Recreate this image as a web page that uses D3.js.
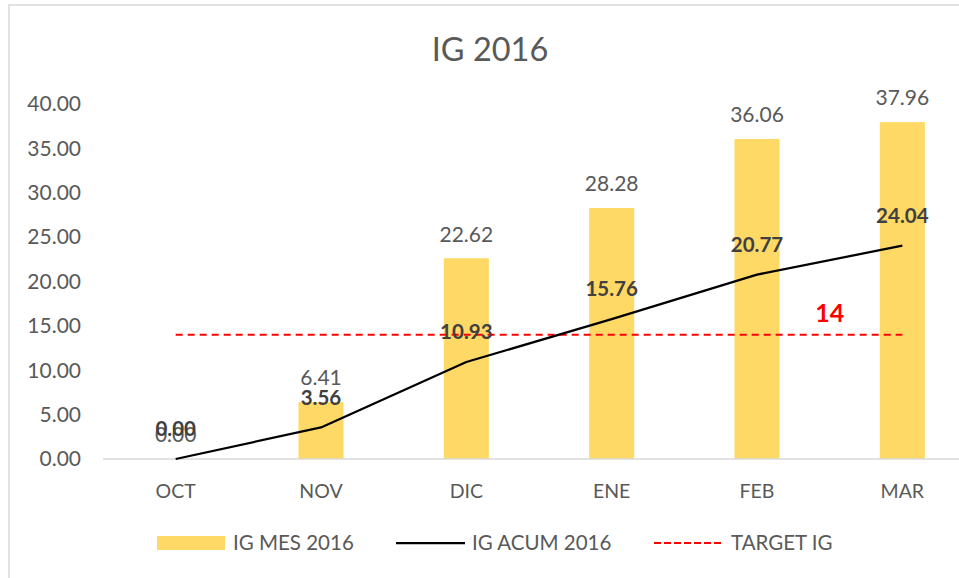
<!DOCTYPE html>
<html>
<head>
<meta charset="utf-8">
<script src="https://cdn.jsdelivr.net/npm/d3@7"></script>
<style>
  body { margin: 0; background: #fff; }
  svg { display: block; font-family: Lato, "Open Sans", sans-serif; }
</style>
</head>
<body>
<script>
// data
const months = ["OCT", "NOV", "DIC", "ENE", "FEB", "MAR"];
const igMes = [0.00, 6.41, 22.62, 28.28, 36.06, 37.96];
const igAcum = [0.00, 3.56, 10.93, 15.76, 20.77, 24.04];
const targetIg = [14, 14, 14, 14, 14, 14];
const yTicks = [0, 5, 10, 15, 20, 25, 30, 35, 40];

const width = 959, height = 578;
const gray = "#595959";

const svg = d3.select("body").append("svg")
  .attr("width", width)
  .attr("height", height);

// chart frame (right and bottom run off the picture)
svg.append("rect")
  .attr("x", 9).attr("y", 5)
  .attr("width", width + 20).attr("height", height + 20)
  .attr("fill", "#fff")
  .attr("stroke", "#d9d9d9")
  .attr("stroke-width", 1.5);

const x = d3.scaleBand().domain(months).range([103, 975]).padding(0);
const y = d3.scaleLinear().domain([0, 40]).range([459, 104]);
const cx = m => x(m) + x.bandwidth() / 2;
const barW = x.bandwidth() * 0.31;

// title
svg.append("text")
  .attr("x", 490).attr("y", 61)
  .attr("text-anchor", "middle")
  .attr("font-size", 32.5)
  .attr("fill", gray)
  .text("IG 2016");

// y axis labels
svg.append("g")
  .selectAll("text")
  .data(yTicks)
  .join("text")
  .attr("x", 81)
  .attr("y", d => y(d))
  .attr("dy", "0.35em")
  .attr("text-anchor", "end")
  .attr("font-size", 21)
  .attr("fill", gray)
  .text(d3.format(".2f"));

// bars
svg.append("g")
  .selectAll("rect")
  .data(igMes)
  .join("rect")
  .attr("x", (d, i) => cx(months[i]) - barW / 2)
  .attr("y", d => y(d))
  .attr("width", barW)
  .attr("height", d => y(0) - y(d))
  .attr("fill", "#ffd966");

// baseline
svg.append("line")
  .attr("x1", 103).attr("x2", 975)
  .attr("y1", y(0)).attr("y2", y(0))
  .attr("stroke", "#d9d9d9")
  .attr("stroke-width", 1.5);

// x labels
svg.append("g")
  .selectAll("text")
  .data(months)
  .join("text")
  .attr("x", d => cx(d))
  .attr("y", 491)
  .attr("dy", "0.35em")
  .attr("text-anchor", "middle")
  .attr("font-size", 19.5)
  .attr("fill", gray)
  .text(d => d);

// target line
const line = d3.line().x((d, i) => cx(months[i])).y(d => y(d));
svg.append("path")
  .attr("d", line(targetIg))
  .attr("fill", "none")
  .attr("stroke", "#ff0000")
  .attr("stroke-width", 2)
  .attr("stroke-dasharray", "7,5");

// cumulative line
svg.append("path")
  .attr("d", line(igAcum))
  .attr("fill", "none")
  .attr("stroke", "#000")
  .attr("stroke-width", 2.25)
  .attr("stroke-linejoin", "round");

// bar labels
svg.append("g")
  .selectAll("text")
  .data(igMes)
  .join("text")
  .attr("x", (d, i) => cx(months[i]))
  .attr("y", d => y(d) - 24)
  .attr("dy", "0.35em")
  .attr("text-anchor", "middle")
  .attr("font-size", 21)
  .attr("fill", gray)
  .text(d3.format(".2f"));

// line labels
svg.append("g")
  .selectAll("text")
  .data(igAcum)
  .join("text")
  .attr("x", (d, i) => cx(months[i]))
  .attr("y", d => y(d) - 30)
  .attr("dy", "0.35em")
  .attr("text-anchor", "middle")
  .attr("font-size", 20.5)
  .attr("font-weight", "bold")
  .attr("fill", "#404040")
  .text(d3.format(".2f"));

// target label
svg.append("text")
  .attr("x", cx("FEB") + x.step() / 2)
  .attr("y", y(targetIg[4]) - 22)
  .attr("dy", "0.35em")
  .attr("text-anchor", "middle")
  .attr("font-size", 25)
  .attr("font-weight", "bold")
  .attr("fill", "#ff0000")
  .text(targetIg[4]);

// legend
const legend = svg.append("g").attr("font-size", 20.5).attr("fill", gray);
legend.append("rect")
  .attr("x", 157).attr("y", 536).attr("width", 68).attr("height", 14)
  .attr("fill", "#ffd966");
legend.append("text").attr("x", 233).attr("y", 543).attr("dy", "0.35em").text("IG MES 2016");
legend.append("line")
  .attr("x1", 396).attr("x2", 465).attr("y1", 543).attr("y2", 543)
  .attr("stroke", "#000").attr("stroke-width", 2.25);
legend.append("text").attr("x", 472).attr("y", 543).attr("dy", "0.35em").text("IG ACUM 2016");
legend.append("line")
  .attr("x1", 654).attr("x2", 723).attr("y1", 543).attr("y2", 543)
  .attr("stroke", "#ff0000").attr("stroke-width", 2).attr("stroke-dasharray", "7,3");
legend.append("text").attr("x", 731).attr("y", 543).attr("dy", "0.35em").text("TARGET IG");
</script>
</body>
</html>
